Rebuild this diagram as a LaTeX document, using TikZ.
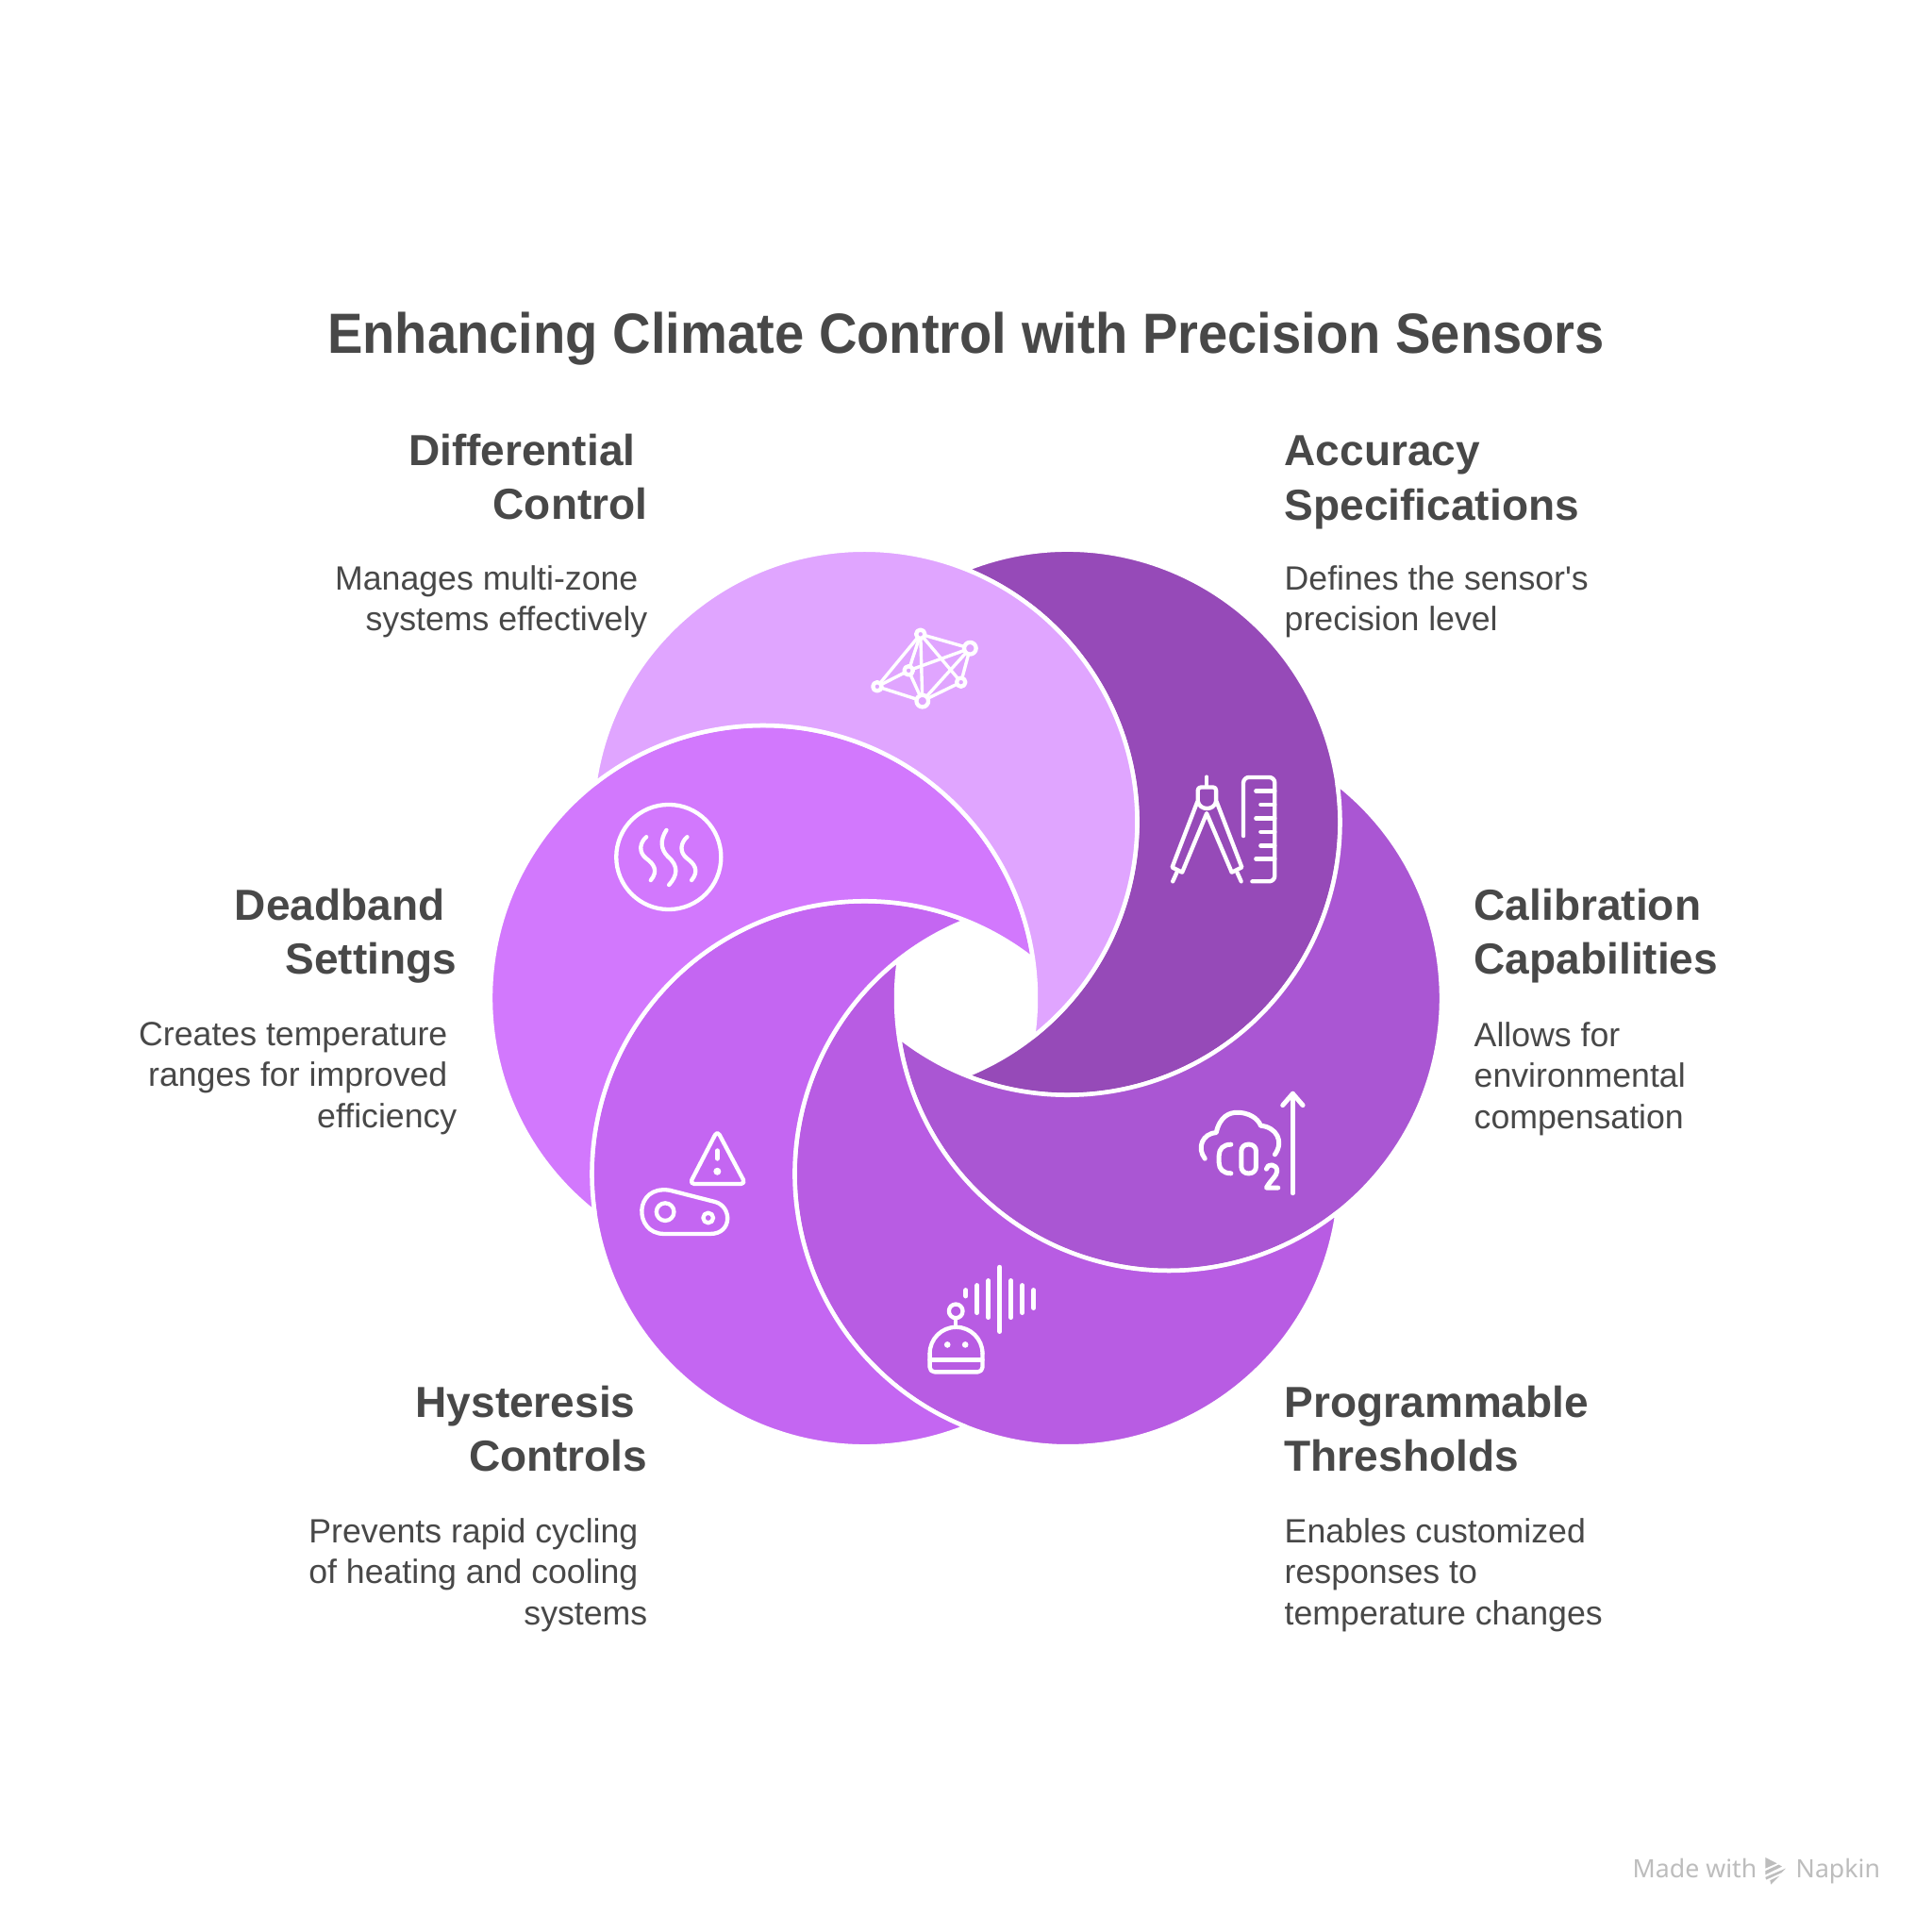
\documentclass[tikz,border=0pt]{standalone}
\usepackage{fontspec}
\setmainfont[Ligatures=TeXOff]{Liberation Sans}
\newfontfamily\titlefont[FakeStretch=0.934]{Liberation Sans}
\newfontfamily\brandfont{Noto Sans}
\usepackage{tikz}
\definecolor{inktext}{HTML}{484848}
\definecolor{brandgrey}{HTML}{BDBDBD}
\definecolor{accuracycol}{HTML}{964AB8}
\definecolor{differentialcol}{HTML}{E0A5FF}
\definecolor{deadbandcol}{HTML}{D278FD}
\definecolor{hysteresiscol}{HTML}{C466F2}
\definecolor{programmablecol}{HTML}{B85CE3}
\definecolor{calibrationcol}{HTML}{AA56D3}
\newcommand{\trailgap}{~\mbox{}}

\begin{document}
\begin{tikzpicture}[>=stealth,
        petal/.style={draw=white, line width=0.045cm, line join=round},
        iconline/.style={draw=white, line width=0.043cm, line cap=round, line join=round},
        titletext/.style={font=\fontsize{17.1}{20}\selectfont\titlefont\bfseries, text=inktext, inner sep=0pt},
        headleft/.style={font=\fontsize{13.1}{16.4}\selectfont\bfseries, text=inktext, inner sep=0pt, align=right, anchor=north east},
        headright/.style={font=\fontsize{13.1}{16.4}\selectfont\bfseries, text=inktext, inner sep=0pt, align=left, anchor=north west},
        descleft/.style={font=\fontsize{10.15}{12.3}\selectfont, text=inktext, inner sep=0pt, align=right, anchor=north east},
        descright/.style={font=\fontsize{10.15}{12.3}\selectfont, text=inktext, inner sep=0pt, align=left, anchor=north west},
        brandtext/.style={font=\fontsize{7.6}{9}\selectfont\brandfont, text=brandgrey, inner sep=0pt, anchor=base west}]
        \useasboundingbox (0,0) rectangle (20.48,20.48);
        \fill[white] (0,0) rectangle (20.48,20.48);

        \foreach \ang/\col in {0/accuracycol, -60/calibrationcol, -120/programmablecol, 180/hysteresiscol, 120/deadbandcol, 60/differentialcol}
            \draw[petal, fill=\col, shift={(10.24,9.90)}, rotate=\ang] (0,4.545)
                arc[start angle=111.84, end angle=-111.84, radius=2.89]
                arc[start angle=-68.16, end angle=68.16, radius=2.89] -- cycle;

        \node[titletext, anchor=base] (title) at (10.24,16.73) {Enhancing Climate Control with Precision Sensors};

        \node[headleft] (differential) at (6.87,15.89) {Differential\trailgap\\Control};
        \node[descleft] (differentialdesc) at (6.87,14.49) {Manages multi-zone\trailgap\\systems effectively};
        \node[headright] (accuracy) at (13.61,15.87) {Accuracy\\Specifications};
        \node[descright] (accuracydesc) at (13.61,14.49) {Defines the sensor's\\precision level};
        \node[headleft] (deadband) at (4.85,11.07) {Deadband\trailgap\\Settings};
        \node[descleft] (deadbanddesc) at (4.85,9.65) {Creates temperature\trailgap\\ranges for improved\trailgap\\efficiency};
        \node[headright] (calibration) at (15.62,11.07) {Calibration\\Capabilities};
        \node[descright] (calibrationdesc) at (15.62,9.65) {Allows for\\environmental\\compensation};
        \node[headleft] (hysteresis) at (6.87,5.80) {Hysteresis\trailgap\\Controls};
        \node[descleft] (hysteresisdesc) at (6.87,4.39) {Prevents rapid cycling\trailgap\\of heating and cooling\trailgap\\systems};
        \node[headright] (programmable) at (13.61,5.80) {Programmable\\Thresholds};
        \node[descright] (programmabledesc) at (13.61,4.39) {Enables customized\\responses to\\temperature changes};

        \node[brandtext] (madewith) at (17.30,0.58) {Made with};
        \node[brandtext] (napkin) at (19.03,0.58) {Napkin};
        \begin{scope}[shift={(17.00,0.98)}, x=0.003333cm, y=-0.003333cm]
            \fill[brandgrey] (515,57) -- (552,76) -- (515,92) -- cycle;
            \fill[brandgrey] (515,100) -- (558,80) -- (568,86) -- (515,112) -- cycle;
            \fill[brandgrey] (515,120) -- (580,92) -- (566,106) -- (518,128) -- cycle;
            \fill[brandgrey] (530,130) -- (560,116) -- (533,143) -- cycle;
        \end{scope}

        \begin{scope}[shift={(8.80,14.08)}, x=0.003333cm, y=-0.003333cm]
            \coordinate (netA) at (288,97);
            \coordinate (netB) at (446,142);
            \coordinate (netC) at (250,213);
            \coordinate (netD) at (150,264);
            \coordinate (netE) at (294,310);
            \coordinate (netF) at (417,250);
            \foreach \from/\to in {netA/netD, netA/netC, netA/netE, netA/netF, netA/netB, netB/netC, netB/netE, netB/netF, netC/netD, netC/netE, netD/netE, netE/netF}
                \draw[iconline, line width=0.034cm] (\from) -- (\to);
            \foreach \nd in {netA, netC, netD, netF}
                \draw[iconline, fill=differentialcol] (\nd) circle[radius=14];
            \foreach \nd in {netB, netE}
                \draw[iconline, fill=differentialcol] (\nd) circle[radius=19];

            \draw[iconline] (1200,552) -- (1200,582);
            \draw[iconline, rounded corners=0.03cm] (1172,630) -- (1172,585) -- (1230,585) -- (1230,630);
            \draw[iconline] (1172,630) .. controls (1178,660) and (1224,660) .. (1230,630);
            \draw[iconline] (1170,632) -- (1090,840) -- (1122,856) -- (1200,668) -- (1280,856) -- (1312,840) -- (1232,632);
            \draw[iconline] (1105,856) -- (1092,885);
            \draw[iconline] (1297,856) -- (1310,885);
            \draw[iconline, rounded corners=0.06cm] (1317,740) -- (1317,553) -- (1417,553) -- (1417,885) -- (1345,885);
            \foreach \yy/\xx in {597/1357, 640/1372, 684/1357, 727/1372, 771/1372, 813/1357}
                \draw[iconline] (\xx,\yy) -- (1417,\yy);
        \end{scope}

        \begin{scope}[shift={(6.20,12.18)}, x=0.003333cm, y=-0.003333cm]
            \draw[iconline] (267,236) circle[radius=167];
            \draw[iconline] (196,172) .. controls (175,190) and (170,220) .. (195,240) .. controls (220,258) and (235,280) .. (210,310);
            \draw[iconline] (260,150) .. controls (240,180) and (240,210) .. (265,235) .. controls (300,265) and (295,295) .. (268,325);
            \draw[iconline] (326,172) .. controls (305,190) and (300,220) .. (325,240) .. controls (350,258) and (365,280) .. (340,310);

            \draw[iconline, rounded corners=0.05cm] (422,1108) -- (512,1278) -- (334,1278) -- cycle;
            \draw[iconline, line width=0.05cm] (422,1172) -- (422,1197);
            \fill[white] (422,1238) circle[radius=12];
            \draw[iconline] (270,1298) -- (415,1335) .. controls (470,1350) and (470,1437) .. (400,1437) -- (252,1437) .. controls (155,1437) and (155,1280) .. (270,1298) -- cycle;
            \draw[iconline] (256,1367) circle[radius=28];
            \draw[iconline] (393,1386) circle[radius=16];
        \end{scope}

        \begin{scope}[shift={(12.40,8.98)}, x=0.003333cm, y=-0.003333cm]
            \draw[iconline, line width=0.05cm] (112,235) .. controls (85,200) and (105,155) .. (148,152) .. controls (160,100) and (190,88) .. (215,88) .. controls (250,88) and (280,105) .. (290,130) .. controls (340,135) and (365,180) .. (335,222);
            \draw[iconline, line width=0.05cm] (195,190) .. controls (170,190) and (157,205) .. (157,225) -- (157,248) .. controls (157,268) and (170,282) .. (195,282);
            \draw[iconline, line width=0.05cm, rounded corners=0.07cm] (228,190) rectangle (275,282);
            \draw[iconline, line width=0.05cm] (308,268) .. controls (310,250) and (342,250) .. (342,275) .. controls (342,290) and (320,305) .. (308,328) -- (345,328);
            \draw[iconline, line width=0.05cm] (392,345) -- (392,28);
            \draw[iconline, line width=0.05cm] (360,65) -- (392,28) -- (424,65);
        \end{scope}

        \begin{scope}[shift={(9.60,7.28)}, x=0.003333cm, y=-0.003333cm]
            \foreach \xx/\ytop/\ybot in {192/143/162, 228/128/215, 264/113/230, 300/70/275, 336/113/230, 372/128/215, 408/143/200}
                \draw[iconline, line width=0.05cm] (\xx,\ytop) -- (\xx,\ybot);
            \draw[iconline] (160,210) circle[radius=22];
            \draw[iconline] (160,232) -- (160,258);
            \draw[iconline, rounded corners=0.05cm] (77,345) -- (77,404) -- (245,404) -- (245,345);
            \draw[iconline] (77,345) arc[start angle=180, end angle=360, radius=84];
            \draw[iconline] (77,365) -- (245,365);
            \fill[white] (133,317) circle[radius=10];
            \fill[white] (190,317) circle[radius=10];
        \end{scope}
    \end{tikzpicture}
\end{document}
